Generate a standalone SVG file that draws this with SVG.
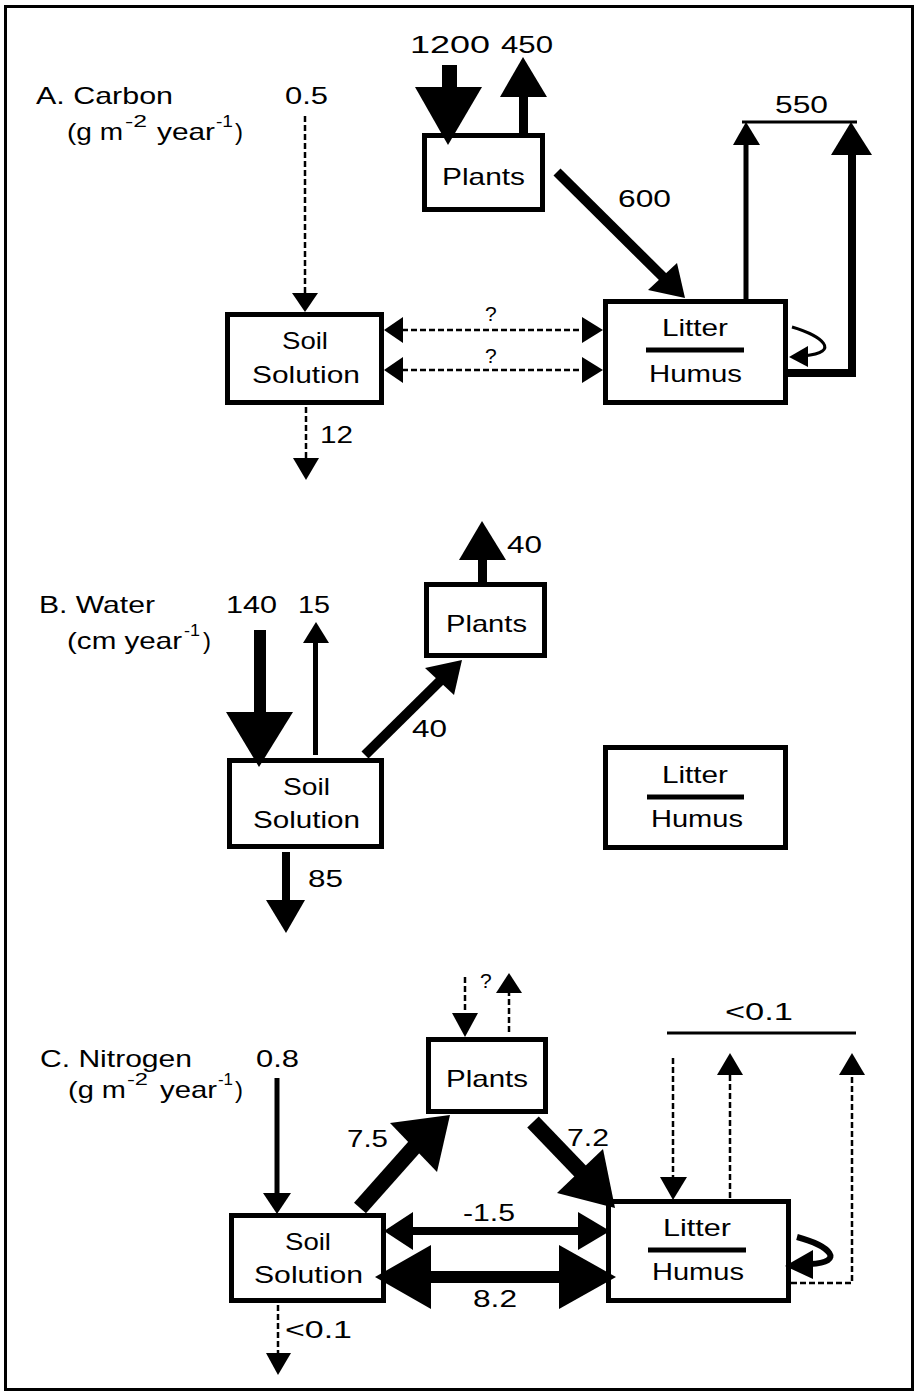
<svg xmlns="http://www.w3.org/2000/svg" width="922" height="1392" viewBox="0 0 922 1392">
<style>
.t{font-family:"Liberation Sans",Arial,sans-serif;font-size:24px;fill:#000}
.s{font-family:"Liberation Sans",Arial,sans-serif;font-size:16px;fill:#000}
.q{font-family:"Liberation Sans",Arial,sans-serif;font-size:21px;fill:#000}
.box{fill:#fff;stroke:#000;stroke-width:5}
.dash{stroke:#000;stroke-width:2.5;stroke-dasharray:6 3;fill:none}
.ln{stroke:#000;fill:none}
.hd{fill:#000;stroke:none}
.div{stroke:#000;stroke-width:5}
</style>
<rect x="5.5" y="6.5" width="907" height="1383" fill="#fff" stroke="#000" stroke-width="3"/>

<g id="labels">
<text class="t" x="36" y="104" textLength="137" lengthAdjust="spacingAndGlyphs">A. Carbon</text>
<text class="t" x="67" y="140" textLength="56" lengthAdjust="spacingAndGlyphs">(g m</text>
<text class="s" x="125" y="127" textLength="22" lengthAdjust="spacingAndGlyphs">-2</text>
<text class="t" x="157" y="140" textLength="58" lengthAdjust="spacingAndGlyphs">year</text>
<text class="s" x="216" y="127" textLength="17" lengthAdjust="spacingAndGlyphs">-1</text>
<text class="t" x="235" y="140">)</text>

<text class="t" x="39" y="613" textLength="116" lengthAdjust="spacingAndGlyphs">B. Water</text>
<text class="t" x="67" y="649" textLength="115" lengthAdjust="spacingAndGlyphs">(cm year</text>
<text class="s" x="184" y="636" textLength="16" lengthAdjust="spacingAndGlyphs">-1</text>
<text class="t" x="203" y="649">)</text>

<text class="t" x="40" y="1067" textLength="152" lengthAdjust="spacingAndGlyphs">C. Nitrogen</text>
<text class="t" x="68" y="1098" textLength="58" lengthAdjust="spacingAndGlyphs">(g m</text>
<text class="s" x="127" y="1085" textLength="21" lengthAdjust="spacingAndGlyphs">-2</text>
<text class="t" x="160" y="1098" textLength="57" lengthAdjust="spacingAndGlyphs">year</text>
<text class="s" x="218" y="1085" textLength="15" lengthAdjust="spacingAndGlyphs">-1</text>
<text class="t" x="235" y="1098">)</text>
</g>

<g id="carbon-plants"><rect class="box" x="424.5" y="135.5" width="118" height="74"/><text class="t" x="442" y="185" textLength="83" lengthAdjust="spacingAndGlyphs">Plants</text></g>
<g id="carbon-soil"><rect class="box" x="227.5" y="314.5" width="154" height="88"/><text class="t" x="282" y="349" textLength="46" lengthAdjust="spacingAndGlyphs">Soil</text><text class="t" x="252" y="383" textLength="108" lengthAdjust="spacingAndGlyphs">Solution</text></g>
<g id="carbon-litter"><rect class="box" x="605.5" y="301.5" width="180" height="101"/><text class="t" x="662" y="336" textLength="66" lengthAdjust="spacingAndGlyphs">Litter</text><line class="div" x1="646" y1="350" x2="744" y2="350"/><text class="t" x="649" y="382" textLength="93" lengthAdjust="spacingAndGlyphs">Humus</text></g>

<g id="water-plants"><rect class="box" x="426.5" y="584.5" width="118" height="71"/><text class="t" x="446" y="632" textLength="81" lengthAdjust="spacingAndGlyphs">Plants</text></g>
<g id="water-soil"><rect class="box" x="229.5" y="760.5" width="152" height="86"/><text class="t" x="283" y="795" textLength="47" lengthAdjust="spacingAndGlyphs">Soil</text><text class="t" x="253" y="828" textLength="107" lengthAdjust="spacingAndGlyphs">Solution</text></g>
<g id="water-litter"><rect class="box" x="605.5" y="747.5" width="180" height="100"/><text class="t" x="662" y="783" textLength="66" lengthAdjust="spacingAndGlyphs">Litter</text><line class="div" x1="647" y1="797" x2="744" y2="797"/><text class="t" x="651" y="827" textLength="92" lengthAdjust="spacingAndGlyphs">Humus</text></g>

<g id="nitrogen-plants"><rect class="box" x="428.5" y="1039.5" width="117" height="72"/><text class="t" x="446" y="1087" textLength="82" lengthAdjust="spacingAndGlyphs">Plants</text></g>
<g id="nitrogen-soil"><rect class="box" x="231.5" y="1215.5" width="152" height="85"/><text class="t" x="285" y="1250" textLength="46" lengthAdjust="spacingAndGlyphs">Soil</text><text class="t" x="254" y="1283" textLength="109" lengthAdjust="spacingAndGlyphs">Solution</text></g>
<g id="nitrogen-litter"><rect class="box" x="608.5" y="1201.5" width="180" height="99"/><text class="t" x="663" y="1236" textLength="68" lengthAdjust="spacingAndGlyphs">Litter</text><line class="div" x1="648" y1="1250" x2="746" y2="1250"/><text class="t" x="652" y="1280" textLength="92" lengthAdjust="spacingAndGlyphs">Humus</text></g>

<g id="connectors">
<!-- Carbon -->
<line class="dash" x1="305" y1="116" x2="305" y2="294"/>
<polygon class="hd" points="292,293 318,293 305,312"/>
<text class="t" x="285" y="104" textLength="43" lengthAdjust="spacingAndGlyphs">0.5</text>
<line class="dash" x1="306" y1="407" x2="306" y2="459"/>
<polygon class="hd" points="293,458 319,458 306,480"/>
<text class="t" x="320" y="443" textLength="33" lengthAdjust="spacingAndGlyphs">12</text>
<line class="dash" x1="402" y1="330" x2="584" y2="330"/>
<polygon class="hd" points="384,330 403,317 403,343"/>
<polygon class="hd" points="603,330 582,317 582,343"/>
<text class="q" x="485" y="321">?</text>
<line class="dash" x1="402" y1="370" x2="584" y2="370"/>
<polygon class="hd" points="384,370 403,357 403,383"/>
<polygon class="hd" points="603,370 582,357 582,383"/>
<text class="q" x="485" y="363">?</text>
<rect x="442" y="65" width="15" height="24" fill="#000"/>
<polygon class="hd" points="415,87 482,87 448,145"/>
<text class="t" x="410" y="53" textLength="80" lengthAdjust="spacingAndGlyphs">1200</text>
<rect x="519" y="95" width="9" height="40" fill="#000"/>
<polygon class="hd" points="500,97 547,97 523,57"/>
<text class="t" x="501" y="53" textLength="52" lengthAdjust="spacingAndGlyphs">450</text>
<line class="ln" x1="557" y1="172" x2="665" y2="279" stroke-width="10"/>
<polygon class="hd" points="685,298 648,290 677,263"/>
<text class="t" x="618" y="207" textLength="53" lengthAdjust="spacingAndGlyphs">600</text>
<line class="ln" x1="746" y1="299" x2="746" y2="143" stroke-width="5"/>
<polygon class="hd" points="733,145 760,145 746,122"/>
<line class="ln" x1="742" y1="122" x2="857" y2="122" stroke-width="3"/>
<path class="ln" d="M786,373 H852 V152" stroke-width="8"/>
<polygon class="hd" points="831,155 872,155 851,122"/>
<text class="t" x="775" y="113" textLength="53" lengthAdjust="spacingAndGlyphs">550</text>
<path class="ln" d="M792,327 C822,336 842,352 804,356" stroke-width="3"/>
<polygon class="hd" points="789,357 808,346 808,367"/>

<!-- Water -->
<rect x="254" y="630" width="12" height="84" fill="#000"/>
<polygon class="hd" points="226,712 293,712 259,767"/>
<text class="t" x="226" y="613" textLength="51" lengthAdjust="spacingAndGlyphs">140</text>
<line class="ln" x1="315.5" y1="755" x2="315.5" y2="641" stroke-width="5"/>
<polygon class="hd" points="303,643 329,643 316,622"/>
<text class="t" x="298" y="613" textLength="32" lengthAdjust="spacingAndGlyphs">15</text>
<line class="ln" x1="365" y1="755" x2="441" y2="680" stroke-width="10"/>
<polygon class="hd" points="462,660 425,668 454,695"/>
<text class="t" x="412" y="737" textLength="35" lengthAdjust="spacingAndGlyphs">40</text>
<rect x="478" y="558" width="9" height="26" fill="#000"/>
<polygon class="hd" points="459,560 506,560 482,521"/>
<text class="t" x="507" y="553" textLength="35" lengthAdjust="spacingAndGlyphs">40</text>
<rect x="282" y="852" width="8" height="50" fill="#000"/>
<polygon class="hd" points="266,900 305,900 286,933"/>
<text class="t" x="308" y="887" textLength="35" lengthAdjust="spacingAndGlyphs">85</text>

<!-- Nitrogen -->
<line class="ln" x1="277" y1="1078" x2="277" y2="1195" stroke-width="5"/>
<polygon class="hd" points="263,1193 291,1193 277,1214"/>
<text class="t" x="256" y="1067" textLength="43" lengthAdjust="spacingAndGlyphs">0.8</text>
<line class="dash" x1="465" y1="977" x2="465" y2="1014"/>
<polygon class="hd" points="452,1013 478,1013 465,1037"/>
<line class="dash" x1="509" y1="1032" x2="509" y2="992"/>
<polygon class="hd" points="496,993 522,993 509,973"/>
<text class="q" x="480" y="988">?</text>
<line class="ln" x1="360" y1="1208" x2="416" y2="1145" stroke-width="16"/>
<polygon class="hd" points="450,1115 390,1123 437,1172"/>
<text class="t" x="347" y="1147" textLength="41" lengthAdjust="spacingAndGlyphs">7.5</text>
<line class="ln" x1="533" y1="1122" x2="582" y2="1173" stroke-width="16"/>
<polygon class="hd" points="615,1208 603,1149 557,1193"/>
<text class="t" x="567" y="1146" textLength="42" lengthAdjust="spacingAndGlyphs">7.2</text>
<line class="ln" x1="411" y1="1231" x2="580" y2="1231" stroke-width="8"/>
<polygon class="hd" points="384,1231 413,1212 413,1250"/>
<polygon class="hd" points="610,1231 578,1212 578,1250"/>
<text class="t" x="463" y="1221" textLength="52" lengthAdjust="spacingAndGlyphs">-1.5</text>
<line class="ln" x1="429" y1="1277" x2="561" y2="1277" stroke-width="12"/>
<polygon class="hd" points="375,1277 431,1245 431,1309"/>
<polygon class="hd" points="616,1277 559,1245 559,1309"/>
<text class="t" x="473" y="1307" textLength="44" lengthAdjust="spacingAndGlyphs">8.2</text>
<line class="dash" x1="278" y1="1305" x2="278" y2="1354"/>
<polygon class="hd" points="266,1353 291,1353 278,1375"/>
<text class="t" x="285" y="1338" textLength="67" lengthAdjust="spacingAndGlyphs">&lt;0.1</text>
<line class="dash" x1="673" y1="1058" x2="673" y2="1178"/>
<polygon class="hd" points="660,1177 687,1177 673,1200"/>
<line class="dash" x1="730" y1="1198" x2="730" y2="1074"/>
<polygon class="hd" points="717,1075 743,1075 730,1053"/>
<path class="dash" d="M791,1283 H852 V1074"/>
<polygon class="hd" points="839,1075 865,1075 852,1053"/>
<line class="ln" x1="667" y1="1033" x2="856" y2="1033" stroke-width="3"/>
<text class="t" x="725" y="1020" textLength="68" lengthAdjust="spacingAndGlyphs">&lt;0.1</text>
<path class="ln" d="M797,1237 C830,1246 846,1262 810,1264" stroke-width="6"/>
<polygon class="hd" points="785,1266 813,1250 813,1279"/>
</g>
</svg>
